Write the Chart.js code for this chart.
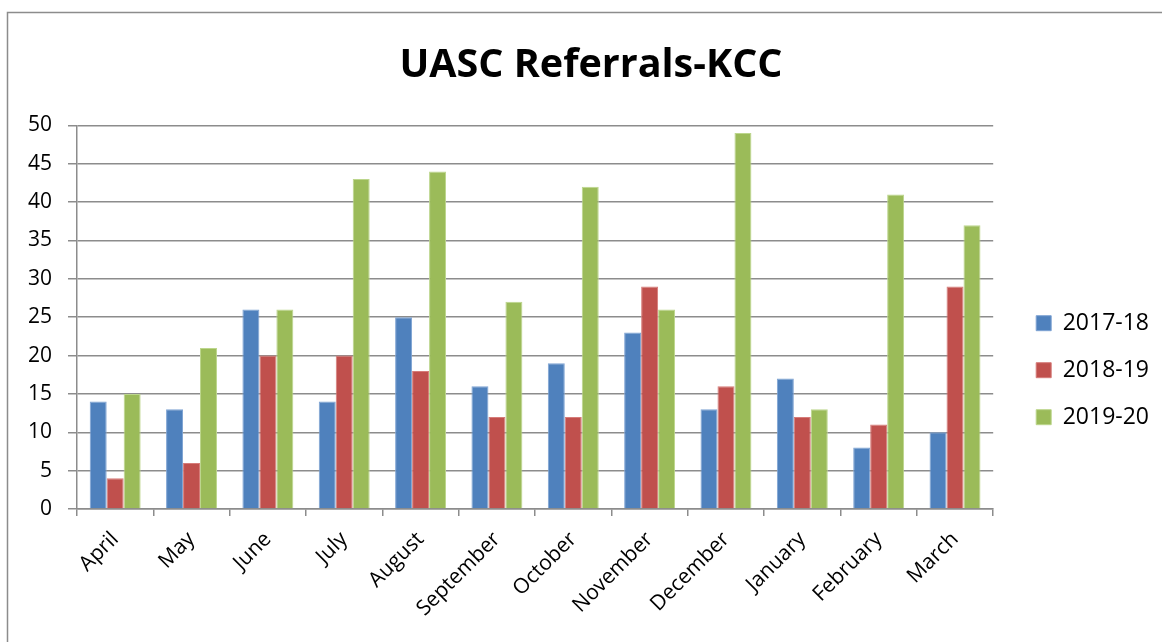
<!DOCTYPE html>
<html>
<head>
<meta charset="utf-8">
<script src="https://cdn.jsdelivr.net/npm/chart.js@4/dist/chart.umd.min.js"></script>
<style>
html,body{margin:0;padding:0;background:#fff;}
#wrap{width:1162px;height:642px;position:relative;}
</style>
</head>
<body>
<div id="wrap"><canvas id="c" width="1162" height="642"></canvas></div>
<script>
const months = ["April","May","June","July","August","September","October","November","December","January","February","March"];
const series2017 = [14,13,26,14,25,16,19,23,13,17,8,10];
const series2018 = [4,6,20,20,18,12,12,29,16,12,11,29];
const series2019 = [15,21,26,43,44,27,42,26,49,13,41,37];
const seriesLabels = ["2017-18","2018-19","2019-20"];
const yTicks = [0,5,10,15,20,25,30,35,40,45,50];

const FONT = "'Open Sans', Lato, sans-serif";
const GRID = "#8c8c8c";

const framePlugin = {
  id: 'frame',
  beforeDraw(chart){
    const ctx = chart.ctx;
    ctx.save();
    ctx.fillStyle = '#fff';
    ctx.fillRect(0,0,chart.width,chart.height);
    ctx.strokeStyle = '#8c8c8c';
    ctx.lineWidth = 1.5;
    ctx.beginPath();
    ctx.moveTo(7.5, 642);
    ctx.lineTo(7.5, 12.5);
    ctx.lineTo(1162, 12.5);
    ctx.stroke();
    ctx.restore();
  }
};

const boxShift = {
  id: 'boxShift',
  afterLayout(chart){
    if (chart.legend) {
      chart.legend.left += 19;
      chart.legend.right += 19;
    }
    if (chart.titleBlock) {
      chart.titleBlock.left += 11;
      chart.titleBlock.right += 11;
    }
  }
};

new Chart(document.getElementById('c'), {
  type: 'bar',
  data: {
    labels: months,
    datasets: [
      {label: seriesLabels[0], data: series2017, backgroundColor: '#4f81bd', borderColor: '#7ea3d3', borderWidth: 1},
      {label: seriesLabels[1], data: series2018, backgroundColor: '#c0504d', borderColor: '#d67c79', borderWidth: 1},
      {label: seriesLabels[2], data: series2019, backgroundColor: '#9bbb59', borderColor: '#bcd68c', borderWidth: 1}
    ]
  },
  options: {
    responsive: false,
    animation: false,
    layout: {padding: {left: 20, right: 22, top: 0, bottom: 0}},
    datasets: {bar: {categoryPercentage: 0.667, barPercentage: 1.0}},
    plugins: {
      title: {
        display: true,
        text: 'UASC Referrals-KCC',
        color: '#000',
        font: {family: FONT, size: 39.5, weight: 'bold', lineHeight: 1.2},
        padding: {top: 42, bottom: 36}
      },
      legend: {
        position: 'right',
        title: {display: true, text: '', padding: {top: 84, bottom: 0}, font: {size: 12}},
        labels: {
          color: '#000',
          font: {family: FONT, size: 23},
          boxWidth: 15,
          boxHeight: 15,
          padding: 24,
          useBorderRadius: false
        }
      },
      tooltip: {enabled: false}
    },
    scales: {
      x: {
        offset: true,
        grid: {display: true, drawOnChartArea: false, drawTicks: true, tickLength: 7, color: GRID, lineWidth: 1.5, offset: true},
        border: {display: true, color: GRID, width: 1.5},
        ticks: {color: '#000', font: {family: FONT, size: 21}, maxRotation: 45, minRotation: 45, padding: 11},
        afterFit(scale){ scale.height = 133; }
      },
      y: {
        min: 0, max: 50,
        afterBuildTicks(scale){ scale.ticks = yTicks.map(v => ({value: v})); },
        grid: {color: GRID, lineWidth: 1.5, drawTicks: true, tickLength: 9},
        border: {display: true, color: GRID, width: 1.5},
        ticks: {color: '#000', font: {family: FONT, size: 21}, padding: 16},
        afterFit(scale){ scale.width = 57; }
      }
    }
  },
  plugins: [framePlugin, boxShift]
});
</script>
</body>
</html>
